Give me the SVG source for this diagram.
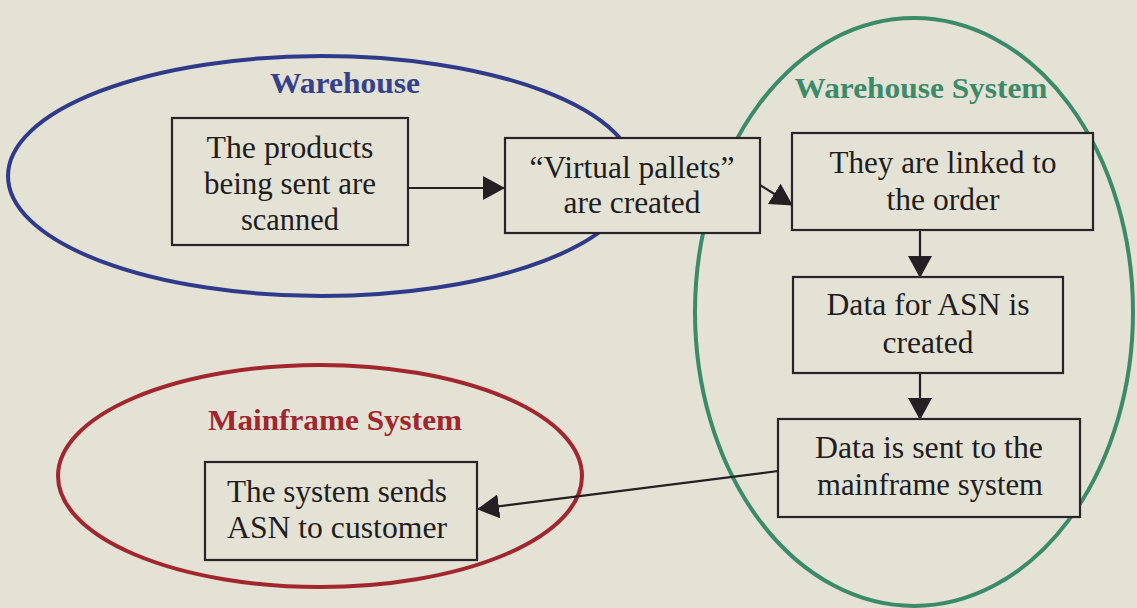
<svg xmlns="http://www.w3.org/2000/svg" width="1137" height="608" viewBox="0 0 1137 608">
  <defs>
    <style>
      .zone { fill: none; stroke-width: 4; }
      .zone-wh { stroke: #2f3b8a; }
      .zone-ws { stroke: #3b8a68; }
      .zone-mf { stroke: #a2262d; }
      text { font-family: 'Liberation Serif', 'Times New Roman', serif; }
      .title { font-weight: bold; font-size: 29px; text-anchor: middle; }
      .t-wh { fill: #35418a; }
      .t-ws { fill: #3d8a69; }
      .t-mf { fill: #a1262e; }
      .box { fill: #e3e2d5; stroke: #2a2328; stroke-width: 2.2; }
      .label { font-size: 31px; fill: #211c20; text-anchor: middle; }
      .edge { stroke: #241f22; stroke-width: 2.2; fill: none; marker-end: url(#arrow); }
    </style>
    <marker id="arrow" markerUnits="userSpaceOnUse" markerWidth="22" markerHeight="24" refX="21" refY="12" orient="auto">
      <path d="M0,0 L22,12 L0,24 Z" fill="#241f22"/>
    </marker>
  </defs>

  <rect x="0" y="0" width="1137" height="608" fill="#e3e2d5"/>

  <!-- system boundaries -->
  <g id="zones">
    <ellipse class="zone zone-wh" cx="322" cy="176" rx="314" ry="120"/>
    <ellipse class="zone zone-ws" cx="914" cy="312" rx="219" ry="294"/>
    <ellipse class="zone zone-mf" cx="320" cy="476" rx="262" ry="111"/>
    <text class="title t-wh" x="345" y="93" textLength="150" lengthAdjust="spacingAndGlyphs">Warehouse</text>
    <text class="title t-ws" x="921" y="98" textLength="253" lengthAdjust="spacingAndGlyphs">Warehouse System</text>
    <text class="title t-mf" x="335" y="430" textLength="254" lengthAdjust="spacingAndGlyphs">Mainframe System</text>
  </g>

  <!-- connectors -->
  <g id="connectors">
    <line class="edge" x1="408" y1="188" x2="504" y2="188"/>
    <line class="edge" x1="760" y1="185" x2="792" y2="205"/>
    <line class="edge" x1="920" y1="230" x2="920" y2="277"/>
    <line class="edge" x1="920" y1="373" x2="920" y2="419"/>
    <line class="edge" x1="778" y1="471" x2="478" y2="509"/>
  </g>

  <g id="scan">
    <rect class="box" x="172" y="118" width="236" height="127"/>
    <text class="label" x="290" y="158" textLength="167" lengthAdjust="spacingAndGlyphs">The products</text>
    <text class="label" x="290" y="194" textLength="172" lengthAdjust="spacingAndGlyphs">being sent are</text>
    <text class="label" x="290" y="230" textLength="98" lengthAdjust="spacingAndGlyphs">scanned</text>
  </g>

  <g id="pallets">
    <rect class="box" x="505" y="138" width="255" height="95"/>
    <text class="label" x="632" y="178" textLength="205" lengthAdjust="spacingAndGlyphs">“Virtual pallets”</text>
    <text class="label" x="632" y="213" textLength="137" lengthAdjust="spacingAndGlyphs">are created</text>
  </g>

  <g id="link">
    <rect class="box" x="792" y="133" width="301" height="97"/>
    <text class="label" x="943" y="173" textLength="227" lengthAdjust="spacingAndGlyphs">They are linked to</text>
    <text class="label" x="943" y="210" textLength="113" lengthAdjust="spacingAndGlyphs">the order</text>
  </g>

  <g id="asn-data">
    <rect class="box" x="793" y="277" width="270" height="96"/>
    <text class="label" x="928" y="315" textLength="203" lengthAdjust="spacingAndGlyphs">Data for ASN is</text>
    <text class="label" x="928" y="353" textLength="91" lengthAdjust="spacingAndGlyphs">created</text>
  </g>

  <g id="send">
    <rect class="box" x="778" y="419" width="302" height="98"/>
    <text class="label" x="929" y="458" textLength="228" lengthAdjust="spacingAndGlyphs">Data is sent to the</text>
    <text class="label" x="930" y="495" textLength="226" lengthAdjust="spacingAndGlyphs">mainframe system</text>
  </g>

  <g id="customer">
    <rect class="box" x="205" y="462" width="272" height="98"/>
    <text class="label" x="337" y="502" textLength="220" lengthAdjust="spacingAndGlyphs">The system sends</text>
    <text class="label" x="337" y="538" textLength="220" lengthAdjust="spacingAndGlyphs">ASN to customer</text>
  </g>
</svg>
